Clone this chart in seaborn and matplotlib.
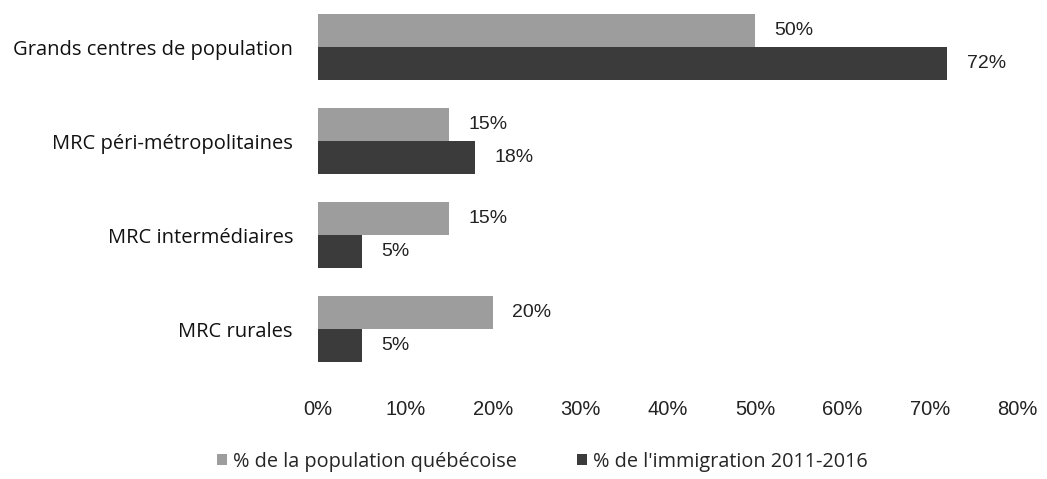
import matplotlib
matplotlib.use("Agg")
import matplotlib.pyplot as plt
import seaborn as sns
import pandas as pd

# donnees
categories = ["Grands centres de population", "MRC péri-métropolitaines",
              "MRC intermédiaires", "MRC rurales"]
pop_quebec = [50, 15, 15, 20]
immigration = [72, 18, 5, 5]
series = ["% de la population québécoise", "% de l'immigration 2011-2016"]
x_ticks = [0, 10, 20, 30, 40, 50, 60, 70, 80]

df = pd.DataFrame({
    "categorie": categories * 2,
    "valeur": pop_quebec + immigration,
    "serie": [series[0]] * 4 + [series[1]] * 4,
})

sns.set_style("white")
plt.rcParams["font.family"] = ["Liberation Sans", "DejaVu Sans"]

fig = plt.figure(figsize=(10.47, 4.79), dpi=100)
ax = fig.add_axes([318 / 1047, 1 - 376 / 479, (1017 - 318) / 1047, 374 / 479])

sns.barplot(data=df, y="categorie", x="valeur", hue="serie", orient="h",
            palette=["#9d9d9d", "#3b3b3b"], width=0.7, linewidth=0, ax=ax, legend=True)

for cont in ax.containers:
    ax.bar_label(cont, labels=[f"{v:.0f}%" for v in cont.datavalues],
                 padding=14, fontsize=14, color="#222222")

ax.set_xlim(0, 80)
ax.set_ylim(3.5, -0.48)
ax.set_xticks(x_ticks)
ax.set_xticklabels([f"{t}%" for t in x_ticks], fontsize=14.5, color="#222222")
ax.set_yticks(range(len(categories)))
ax.set_yticklabels(categories, fontsize=14.5, color="#111111", family=["Open Sans", "DejaVu Sans"])
ax.tick_params(axis="x", length=0, pad=17)
ax.tick_params(axis="y", length=0, pad=18)
ax.set_xlabel("")
ax.set_ylabel("")
sns.despine(ax=ax, left=True, bottom=True)

handles, labels = ax.get_legend_handles_labels()
ax.get_legend().remove()
fig.legend(handles, labels, loc="lower center", bbox_to_anchor=(0.518, -0.022), ncol=2,
           frameon=False, handlelength=0.5, handleheight=0.5, handletextpad=0.3,
           columnspacing=3, prop={"family": ["Open Sans", "DejaVu Sans"], "size": 14.3})

fig.savefig("out.png", dpi=100)
